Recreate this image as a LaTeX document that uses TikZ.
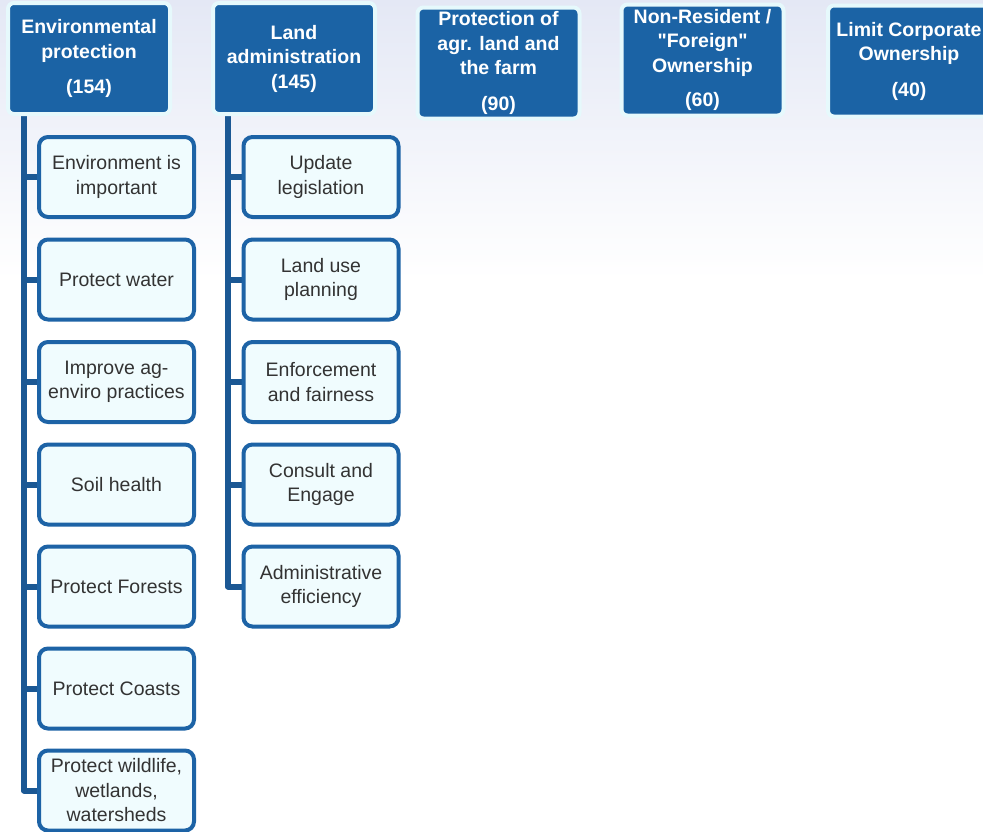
\documentclass[tikz,border=0pt]{standalone}
\usepackage{fontspec}
\setmainfont{Liberation Sans}[Ligatures=TeXOff]
\pgfdeclarelayer{background}
\pgfsetlayers{background,main}
\definecolor{head fill}{HTML}{1B63A5}
\definecolor{head glow}{HTML}{E6F9FC}
\definecolor{sub edge}{HTML}{1D63A6}
\definecolor{sub fill}{HTML}{F0FCFE}
\definecolor{link}{HTML}{1B5894}
\definecolor{sky}{HTML}{E4E8F5}
\definecolor{ink}{HTML}{333333}
\tikzset{
  labeltext/.style={font=\fontsize{19.5}{24.5}\selectfont, align=center, inner sep=0pt}
  }
\tikzstyle{topic} = [labeltext, font=\fontsize{19.5}{24.5}\selectfont\bfseries, text=white, fill=head fill, draw=head glow, line width=4pt, rounded corners=6pt, minimum width=162pt, minimum height=111pt]
\tikzstyle{issue} = [labeltext, text=ink, fill=sub fill, draw=sub edge, line width=4pt, rounded corners=9pt, minimum width=155pt, minimum height=80pt]
\tikzstyle{branch} = [draw=link, line width=6pt, line join=round]

\begin{document}
\begin{tikzpicture}[x=1pt, y=-1pt]
    \clip (0,0) rectangle (983,831);

    \foreach \pos/\name/\txt in {{(89,58.5)/env/{Environmental\\protection\\[11pt](154)}},
                                 {(294,58.5)/land/{Land\\administration\\(145)}},
                                 {(498.5,63)/agr/{Protection of\\agr. land and\\the farm\\[11pt](90)}},
                                 {(702.5,60)/foreign/{Non-Resident /\\"Foreign"\\Ownership\\[10pt](60)}},
                                 {(909,61)/corp/{Limit Corporate\\Ownership\\[11pt](40)}}}
      \node[topic] (\name) at \pos {\txt};

    \foreach \y/\name/\txt in {177/e1/{Environment is\\important}, 279.5/e2/{Protect water},
                               382/e3/{Improve ag-\\enviro practices}, 484.5/e4/{Soil health},
                               586.5/e5/{Protect Forests}, 688.5/e6/{Protect Coasts},
                               790.5/e7/{Protect wildlife,\\wetlands,\\watersheds}}
      \node[issue] (\name) at (116.5,\y) {\txt};

    \foreach \y/\name/\txt in {177/l1/{Update\\legislation}, 279.5/l2/{Land use\\planning},
                               382/l3/{Enforcement\\and fairness}, 484.5/l4/{Consult and\\Engage},
                               586.5/l5/{Administrative\\efficiency}}
      \node[issue] (\name) at (321,\y) {\txt};

    \coordinate (env trunk) at (24,0);
    \coordinate (land trunk) at (228,0);

    \begin{pgfonlayer}{background}
      \shade[top color=sky, middle color=sky!55!white, bottom color=white] (0,0) rectangle (983,280);
      \draw[branch] (env trunk |- env.south) |- (e7.west);
      \foreach \child in {e1,e2,e3,e4,e5,e6}
        \path[branch] (env trunk |- \child.west) -- (\child.west);
      \draw[branch] (land trunk |- land.south) |- (l5.west);
      \foreach \child in {l1,l2,l3,l4}
        \path[branch] (land trunk |- \child.west) -- (\child.west);
    \end{pgfonlayer}

\end{tikzpicture}
\end{document}
